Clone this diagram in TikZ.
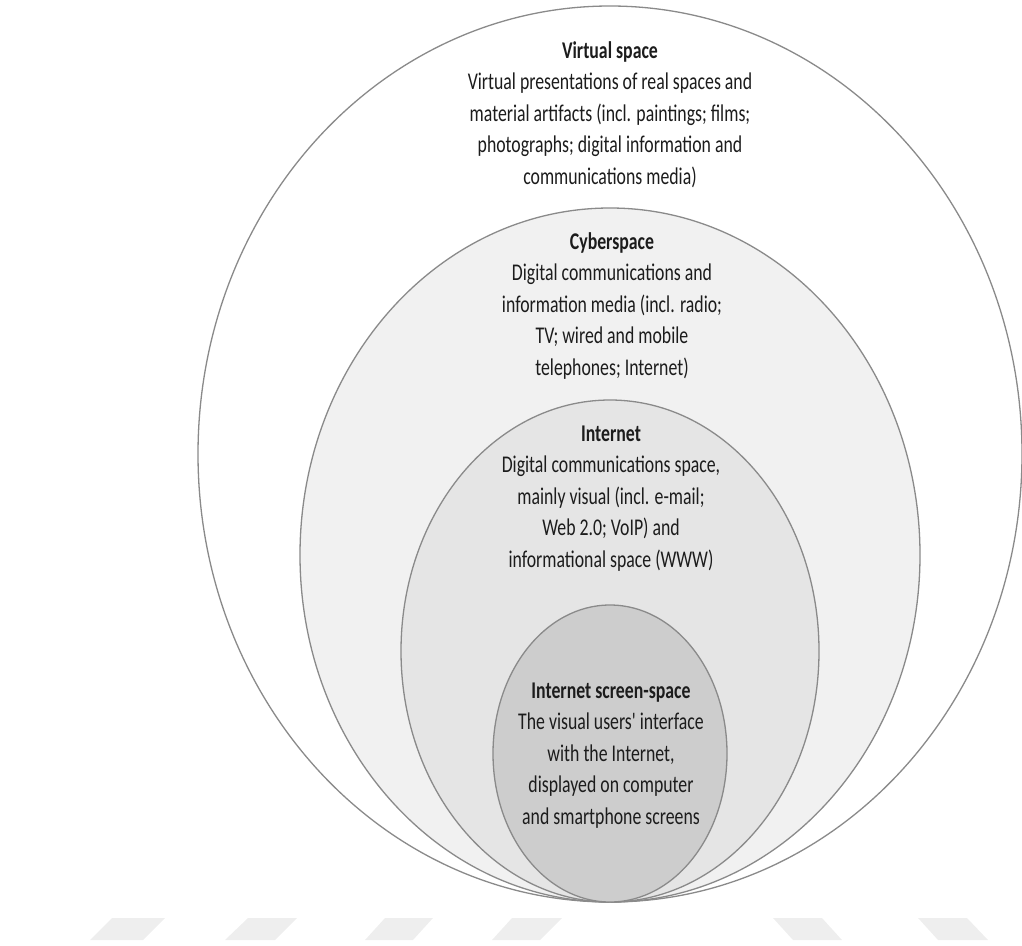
\documentclass[tikz,border=0pt]{standalone}
\usepackage{fontspec}
\newfontfamily\calib[FakeStretch=0.74]{Carlito}
\usetikzlibrary{shapes.geometric}
\definecolor{ringline}{HTML}{8A8A8A}
\definecolor{fillcyber}{HTML}{F1F1F1}
\definecolor{fillnet}{HTML}{E5E5E5}
\definecolor{fillscreen}{HTML}{CDCDCD}
\definecolor{wm}{HTML}{EEEEEE}
\definecolor{txt}{HTML}{1C1C1C}
\begin{document}
\begin{tikzpicture}[x=1pt,y=-1pt,
  ring/.style={ellipse, draw=ringline, line width=1.3pt, inner sep=0pt, outer sep=0pt},
  spacetext/.style={anchor=base, align=center, text=txt, inner sep=0pt,
    font=\calib\fontsize{24}{31.6}\selectfont},
  wmark/.style={fill=wm, draw=none}]
\useasboundingbox (0,0) rectangle (1022,945);
% watermark shapes
\fill[wmark] (90,940) -- (143,940) -- (165,918) -- (112,918) -- cycle;
\fill[wmark] (225,940) -- (275,940) -- (297,918) -- (248,918) -- cycle;
\fill[wmark] (365,940) -- (413,940) -- (433,918) -- (385,918) -- cycle;
\fill[wmark] (492,940) -- (540,940) -- (562,918) -- (512,918) -- cycle;
\fill[wmark] (773,918) -- (822,918) -- (842,940) -- (793,940) -- cycle;
\fill[wmark] (918,918) -- (967,918) -- (988,940) -- (938,940) -- cycle;
% nested spaces
\node[ring, fill=white, minimum width=824pt, minimum height=896pt] (virtual) at (610,454) {};
\node[ring, fill=fillcyber, minimum width=620pt, minimum height=694pt] (cyber) at (610,555) {};
\node[ring, fill=fillnet, minimum width=418pt, minimum height=502pt] (net) at (610,651) {};
\node[ring, fill=fillscreen, minimum width=234pt, minimum height=297pt] (screen) at (610,753.5) {};
% texts (anchor = baseline of the last line)
\node[spacetext] (virtualtxt) at (610,184.4) {\textbf{Virtual space}\\Virtual presentations of real spaces and\\material artifacts (incl. paintings; films;\\photographs; digital information and\\communications media)};
\node[spacetext] (cybertxt) at (612,375.4) {\textbf{Cyberspace}\\Digital communications and\\information media (incl. radio;\\TV; wired and mobile\\telephones; Internet)};
\node[spacetext] (nettxt) at (611,567.4) {\textbf{Internet}\\Digital communications space,\\mainly visual (incl. e-mail;\\Web 2.0; VoIP) and\\informational space (WWW)};
\node[spacetext] (screentxt) at (611,824.4) {\textbf{Internet screen-space}\\The visual users' interface\\with the Internet,\\displayed on computer\\and smartphone screens};
\end{tikzpicture}
\end{document}
